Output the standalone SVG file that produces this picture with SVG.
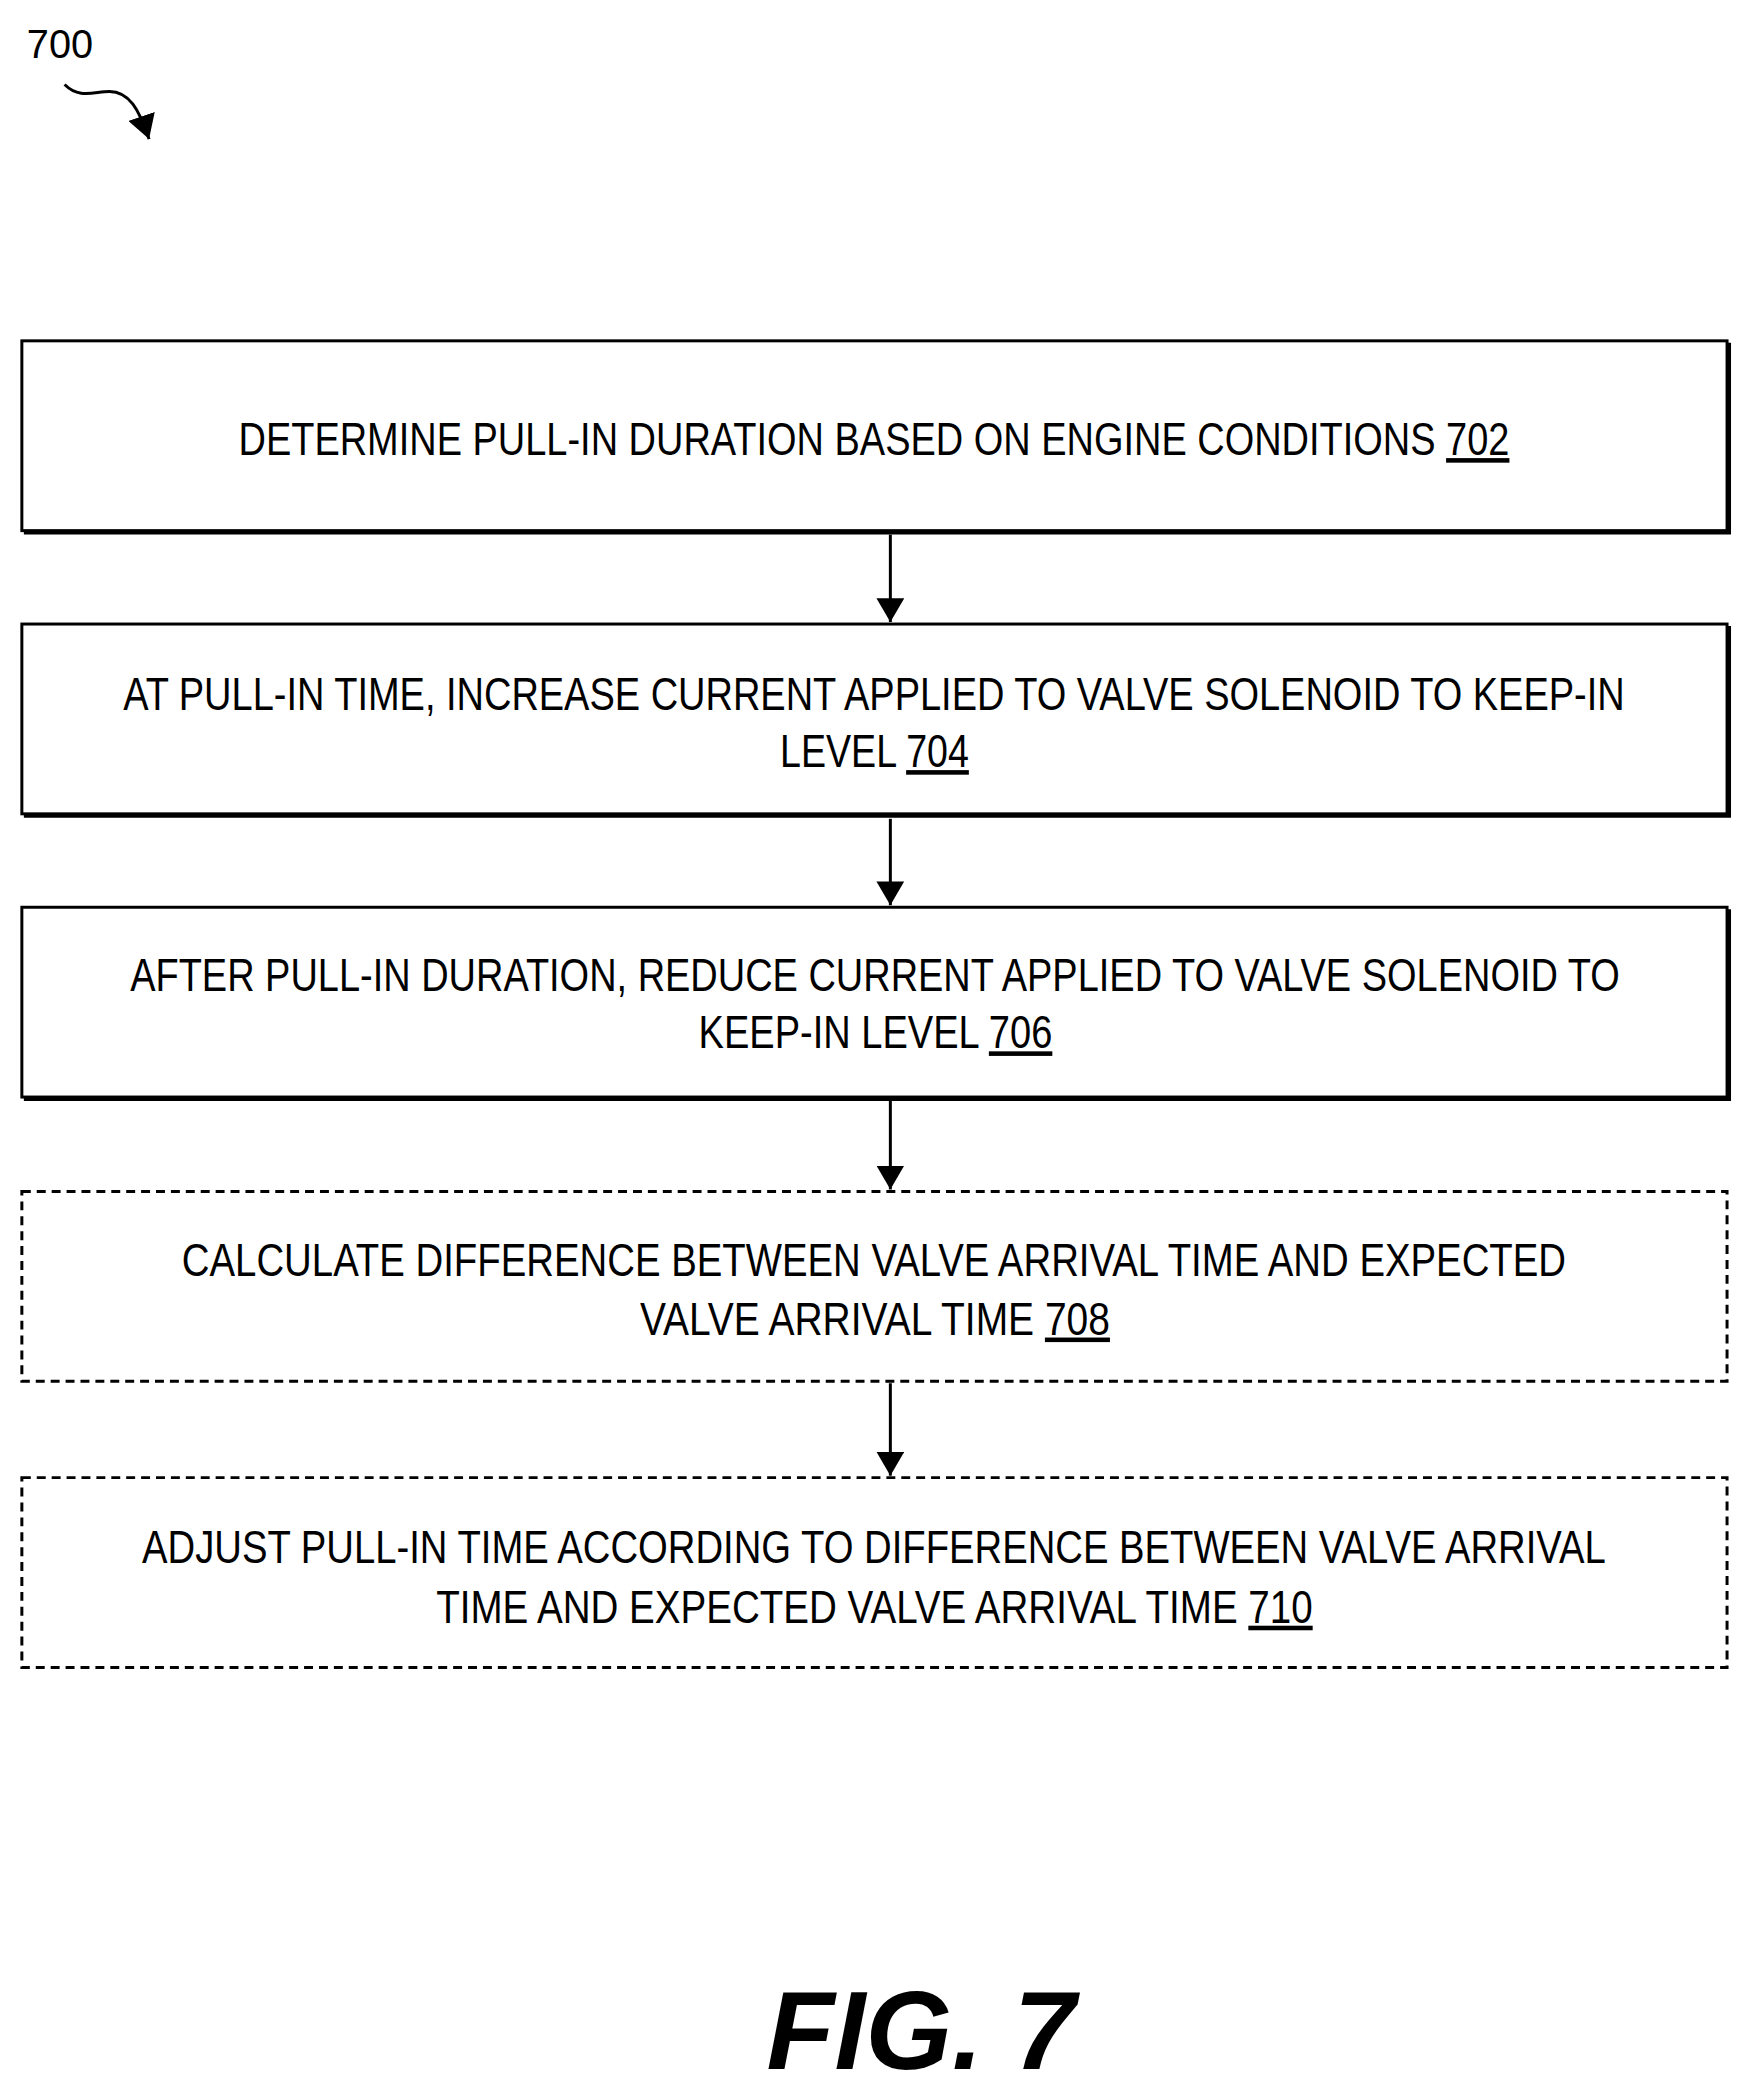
<svg xmlns="http://www.w3.org/2000/svg" width="1751" height="2096" viewBox="0 0 1751 2096">
<style>
.b{fill:#fff;stroke:#000;stroke-width:3}
.d{fill:#fff;stroke:#000;stroke-width:3;stroke-dasharray:9,6}
.s{fill:none;stroke:#000;stroke-width:4}
text{font-family:"Liberation Sans",Arial,sans-serif;font-size:46px;fill:#000}
.u{text-decoration:underline}
</style>
<defs>
<marker id="m" markerWidth="24" markerHeight="28" refX="24" refY="14" orient="auto" markerUnits="userSpaceOnUse" viewBox="0 0 24 28"><path d="M0,0L24,14L0,28z"/></marker></defs>
<g transform="scale(0.9937)">
<text x="27" y="58" style="font-size:40px">700</text>
<path d="M65,85 C80,100 95,92 110,92 C130,92 140,110 150,140" fill="none" stroke="#000" stroke-width="3" marker-end="url(#m)"/>
<g id="connectors">
<line x1="896" y1="538" x2="896" y2="626" stroke="#000" stroke-width="3" marker-end="url(#m)"/>
<line x1="896" y1="824" x2="896" y2="911" stroke="#000" stroke-width="3" marker-end="url(#m)"/>
<line x1="896" y1="1108" x2="896" y2="1197" stroke="#000" stroke-width="3" marker-end="url(#m)"/>
<line x1="896" y1="1392" x2="896" y2="1485" stroke="#000" stroke-width="3" marker-end="url(#m)"/>
</g>
<g id="n702"><rect class="b" x="22" y="343" width="1716" height="191"/><path class="s" d="M24,536H1740V345"/>
<text x="240" y="458" textLength="1279" lengthAdjust="spacingAndGlyphs">DETERMINE PULL-IN DURATION BASED ON ENGINE CONDITIONS <tspan class="u">702</tspan></text></g>
<g id="n704"><rect class="b" x="22" y="628" width="1716" height="191"/><path class="s" d="M24,821H1740V630"/>
<text x="124" y="714" textLength="1511" lengthAdjust="spacingAndGlyphs">AT PULL-IN TIME, INCREASE CURRENT APPLIED TO VALVE SOLENOID TO KEEP-IN</text>
<text x="785" y="772" textLength="190" lengthAdjust="spacingAndGlyphs">LEVEL <tspan class="u">704</tspan></text></g>
<g id="n706"><rect class="b" x="22" y="913" width="1716" height="191"/><path class="s" d="M24,1106H1740V915"/>
<text x="131" y="997" textLength="1499" lengthAdjust="spacingAndGlyphs">AFTER PULL-IN DURATION, REDUCE CURRENT APPLIED TO VALVE SOLENOID TO</text>
<text x="703" y="1055" textLength="356" lengthAdjust="spacingAndGlyphs">KEEP-IN LEVEL <tspan class="u">706</tspan></text></g>
<g id="n708"><rect class="d" x="22" y="1199" width="1716" height="191"/>
<text x="183" y="1284" textLength="1393" lengthAdjust="spacingAndGlyphs">CALCULATE DIFFERENCE BETWEEN VALVE ARRIVAL TIME AND EXPECTED</text>
<text x="644" y="1343" textLength="473" lengthAdjust="spacingAndGlyphs">VALVE ARRIVAL TIME <tspan class="u">708</tspan></text></g>
<g id="n710"><rect class="d" x="22" y="1487" width="1716" height="191"/>
<text x="143" y="1573" textLength="1473" lengthAdjust="spacingAndGlyphs">ADJUST PULL-IN TIME ACCORDING TO DIFFERENCE BETWEEN VALVE ARRIVAL</text>
<text x="439" y="1633" textLength="882" lengthAdjust="spacingAndGlyphs">TIME AND EXPECTED VALVE ARRIVAL TIME <tspan class="u">710</tspan></text></g>
<text x="927" y="2082" text-anchor="middle" style="font-size:112px;font-weight:bold;font-style:italic">FIG. 7</text>
</g>
</svg>
